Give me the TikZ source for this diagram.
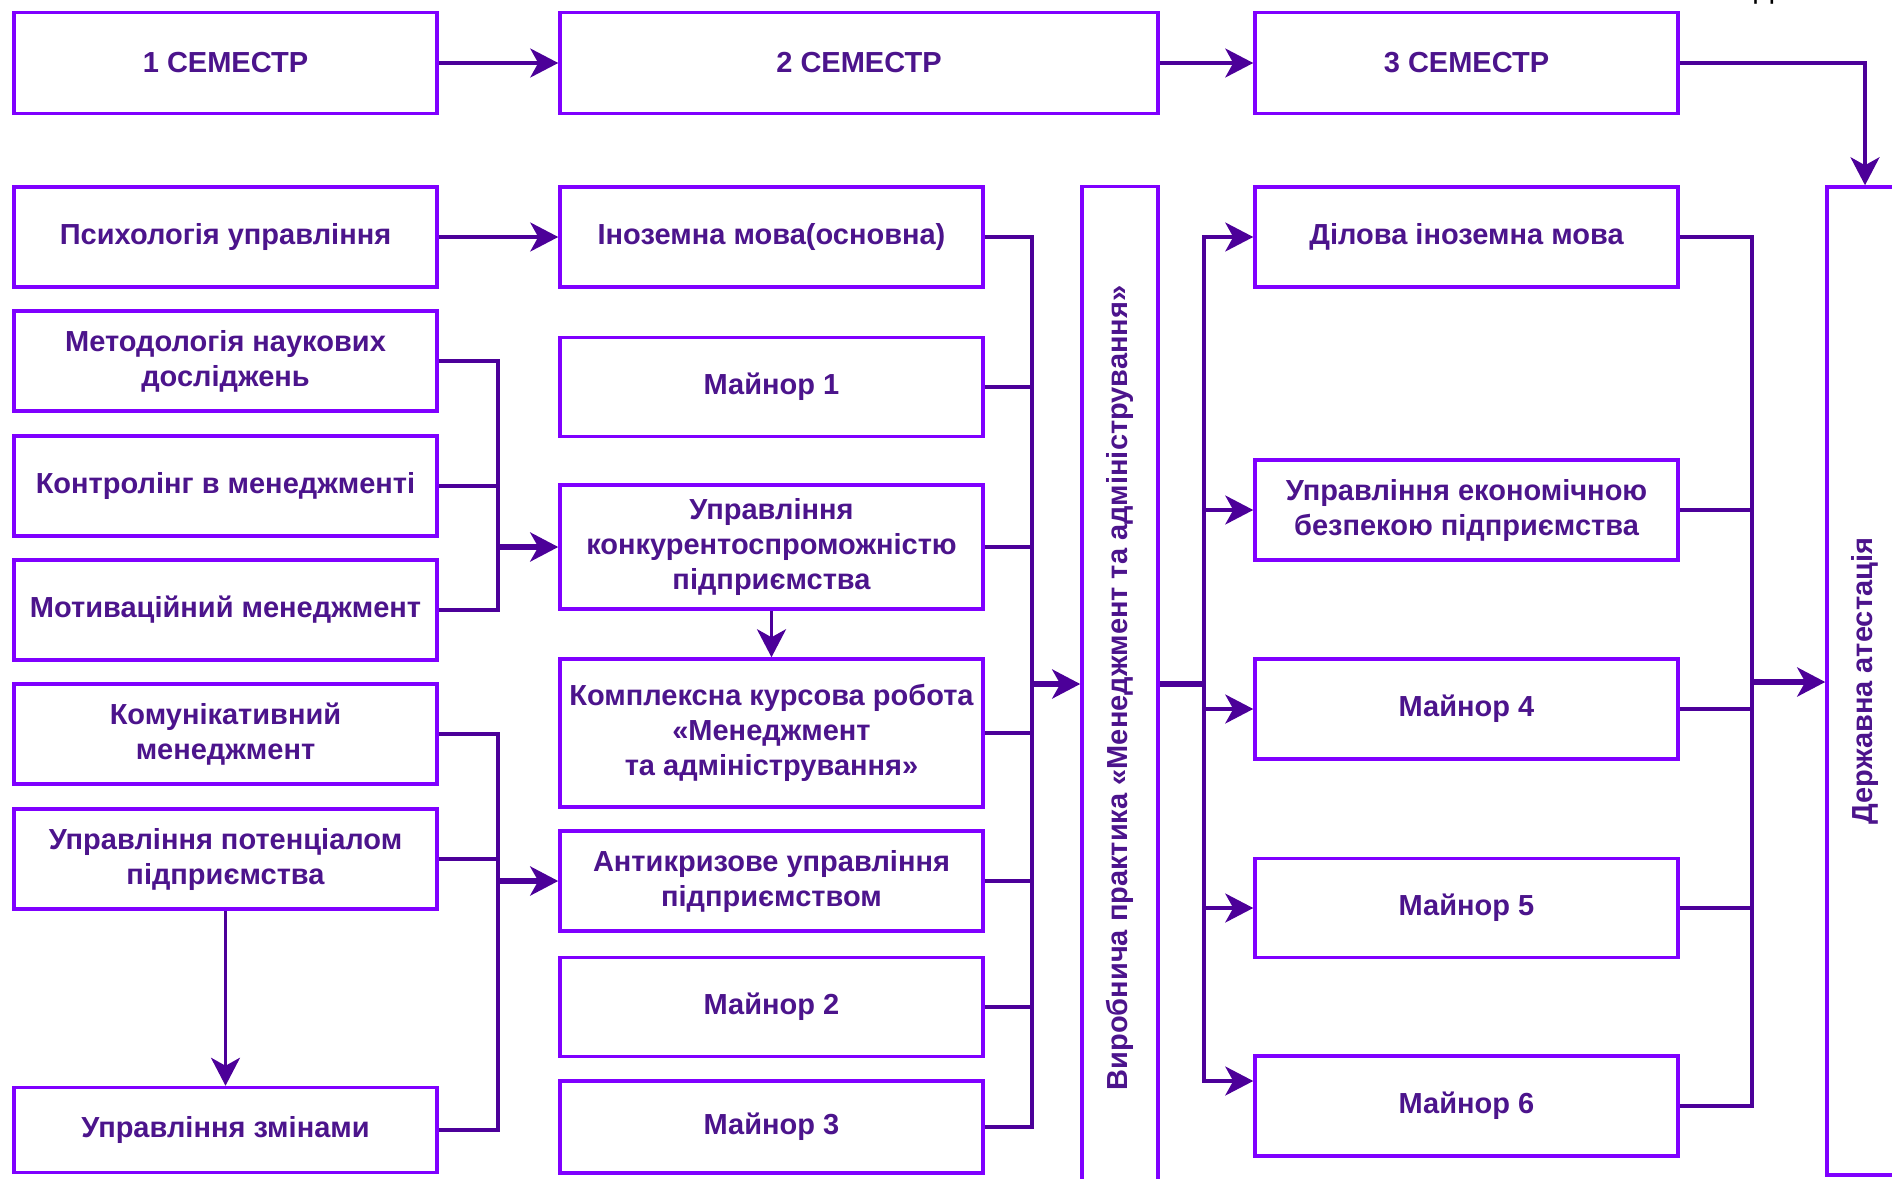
\documentclass[tikz,border=0pt]{standalone}
\usepackage{fontspec}
\setmainfont{Liberation Sans}
\usetikzlibrary{arrows.meta}
\definecolor{boxviolet}{RGB}{127,0,255}
\definecolor{lineviolet}{RGB}{76,0,153}
\definecolor{textviolet}{RGB}{76,20,140}

\tikzset{
  subj/.style={draw=boxviolet, line width=3.5pt, fill=white, text=textviolet,
    font=\fontsize{29}{35}\selectfont\bfseries, align=center,
    minimum width=423pt, minimum height=100pt, inner sep=1pt},
  link/.style={draw=lineviolet, line width=3.5pt},
  feed/.style={link, -{Stealth[length=28pt,width=29pt,inset=8pt]}},
  busfeed/.style={feed, line width=5.5pt}
}

\begin{document}
\begin{tikzpicture}[x=1pt, y=-1pt]
    \useasboundingbox (0,0) rectangle (1892,1178);

    \node[anchor=base, font=\fontsize{29}{35}\selectfont] (pagemark) at (1764,-2) {Д};

    \node[subj, minimum height=101pt] (sem1) at (225.5,63) {1 СЕМЕСТР};
    \node[subj, minimum width=598pt, minimum height=101pt] (sem2) at (859,63) {2 СЕМЕСТР};
    \node[subj, minimum height=101pt] (sem3) at (1466.5,63) {3 СЕМЕСТР};

    \node[subj] (psych) at (225.5,237) {Психологія управління};
    \node[subj] (metod) at (225.5,361) {Методологія наукових\\досліджень};
    \node[subj] (control) at (225.5,486) {Контролінг в менеджменті};
    \node[subj] (motiv) at (225.5,610) {Мотиваційний менеджмент};
    \node[subj] (komun) at (225.5,734) {Комунікативний\\менеджмент};
    \node[subj] (potent) at (225.5,859) {Управління потенціалом\\підприємства};
    \node[subj, minimum height=85pt] (zmin) at (225.5,1130) {Управління змінами};

    \node[subj] (inozem) at (771.5,237) {Іноземна мова(основна)};
    \node[subj, minimum height=99pt] (major1) at (771.5,387) {Майнор 1};
    \node[subj, minimum height=124pt] (konkur) at (771.5,547) {Управління\\конкурентоспроможністю\\підприємства};
    \node[subj, minimum height=148pt] (kompl) at (771.5,733) {Комплексна курсова робота\\«Менеджмент\\та адміністрування»};
    \node[subj] (antikr) at (771.5,881) {Антикризове управління\\підприємством};
    \node[subj, minimum height=99pt] (major2) at (771.5,1007) {Майнор 2};
    \node[subj, minimum height=92pt] (major3) at (771.5,1127) {Майнор 3};

    \node[subj, minimum width=76pt, minimum height=1003pt, inner sep=0pt] (prakt) at (1120,688)
        {\rotatebox{90}{Виробнича практика «Менеджмент та адміністрування»}};

    \node[subj] (dilova) at (1466.5,237) {Ділова іноземна мова};
    \node[subj] (ekon) at (1466.5,510) {Управління економічною\\безпекою підприємства};
    \node[subj] (major4) at (1466.5,709) {Майнор 4};
    \node[subj, minimum height=99pt] (major5) at (1466.5,908) {Майнор 5};
    \node[subj] (major6) at (1466.5,1106) {Майнор 6};

    \node[subj, minimum width=76pt, minimum height=988pt, inner sep=0pt] (att) at (1865,681)
        {\rotatebox{90}{Державна атестація}};

    \coordinate (jA) at (498,547);
    \coordinate (jB) at (498,881);
    \coordinate (jC) at (1032,684);
    \coordinate (jD) at (1204,684);
    \coordinate (jE) at (1752,682);

    \draw[feed] (sem1) -- (sem2);
    \draw[feed] (sem2) -- (sem3);
    \draw[feed] (sem3.east) -| (att.north);
    \draw[feed] (psych) -- (inozem);
    \draw[feed] (potent) -- (zmin);
    \draw[feed] (konkur) -- (kompl);

    \draw[link] (metod.east) -| (jA);
    \draw[link] (control.east) -| (jA);
    \draw[link] (motiv.east) -| (jA);
    \draw[busfeed] (jA) -- (konkur.west);

    \draw[link] (komun.east) -| (jB);
    \draw[link] (potent.east) -| (jB);
    \draw[link] (zmin.east) -| (jB);
    \draw[busfeed] (jB) -- (antikr.west);

    \foreach \src in {inozem,major1,konkur,kompl,antikr,major2,major3}
        \draw[link] (\src.east) -| (jC);
    \draw[busfeed] (jC) -- (jC -| prakt.west);

    \draw[link, line width=5.5pt] (prakt.east |- jD) -- (jD);
    \foreach \dst in {dilova,ekon,major4,major5}
        \draw[feed] (jD) |- (\dst.west);
    \draw[feed] (jD) |- ([yshift=25pt]major6.west);

    \foreach \src in {dilova,ekon,major4,major5,major6}
        \draw[link] (\src.east) -| (jE);
    \draw[busfeed] (jE) -- (jE -| att.west);
\end{tikzpicture}
\end{document}
